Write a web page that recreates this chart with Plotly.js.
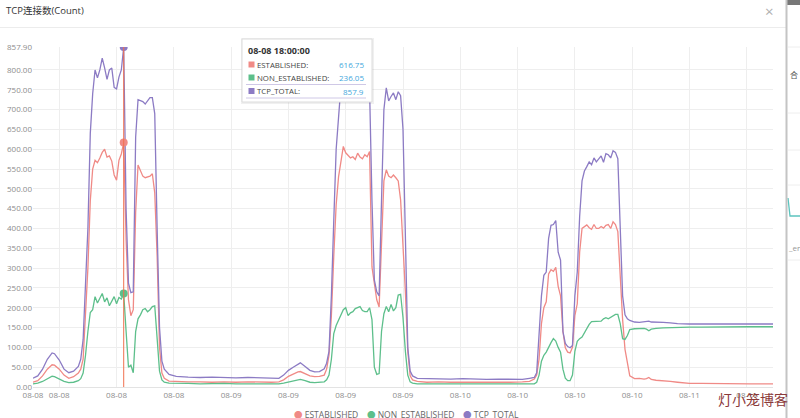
<!DOCTYPE html>
<html>
<head>
<meta charset="utf-8">
<script src="https://cdn.plot.ly/plotly-3.0.1.min.js"></script>
<style>
  html, body { margin: 0; padding: 0; background: #ffffff; }
  #chart { width: 800px; height: 418px; }
</style>
</head>
<body>
<div id="chart"></div>
<script>
// ---- data (15-minute sample slots) ----
const sampleIndex = [0,2,4,6,8,9,11,13,15,17,19,20,21,22,23,24,25,26,27,28,29,30,31,32,33,34,35,36,37,38,39,40,41,42,43,44,45,46,47,48,49,50,51,52,53,54,55,57,60,65,70,75,80,85,90,95,100,103,105,107,109,111,112,114,116,118,120,122,123,124,125,126,127,128,129,130,131,132,133,134,135,136,137,138,139,140,141,142,143,144,145,146,147,148,149,150,151,152,153,154,155,156,157,158,159,161,165,170,175,180,185,190,195,200,205,208,210,211,212,213,214,215,216,217,218,219,220,221,222,223,224,225,226,227,228,229,230,231,232,233,234,235,236,237,238,239,240,241,242,243,244,245,246,247,248,249,250,252,254,256,257,258,259,261,264,267,270,275,280,290,300,310];

const tcpTotal = [22,28,45,70,86,84,68,45,36,40,52,70,120,250,400,640,740,800,780,800,830,805,776,800,805,756,752,782,800,857.9,448,262,238,240,630,725,722,720,714,722,730,730,690,400,150,65,45,32,27,25,24,25,24,23,24,23,22,22,30,42,50,58,61,52,42,38,39,46,60,90,230,420,600,680,760,800,795,790,775,778,780,795,790,780,785,785,750,470,270,240,230,470,700,755,722,733,742,725,745,735,650,380,100,40,28,22,21,20,20,21,20,19,20,19,19,22,24,36,120,230,282,290,375,408,410,420,340,320,140,110,102,99,105,230,290,430,520,545,556,568,561,578,568,576,583,567,589,586,578,596,592,576,400,230,182,172,168,164,163,164,165,166,164,163,163,162,160,159,159,159,159,159];

const established = [12,16,28,45,56,55,45,30,22,26,35,45,70,170,300,470,550,572,566,578,592,600,580,583,570,535,522,572,588,616.75,371,220,180,195,440,560,548,532,528,530,532,538,490,330,100,35,22,15,14,13,13,12,13,12,13,12,12,13,18,27,33,38,39,34,28,26,27,30,45,80,180,330,460,530,575,607,591,584,578,581,574,590,580,576,586,581,594,303,255,220,202,350,520,548,532,528,535,528,520,472,360,240,90,28,18,14,12,13,12,12,12,11,12,12,13,14,20,30,70,160,200,215,285,296,292,302,254,230,140,99,88,86,100,180,210,340,400,405,409,402,398,410,400,400,405,401,408,410,400,417,410,392,275,170,95,60,28,21,22,20,21,24,19,17,16,14,12,9,9,8,8,8];

const nonEstablished = [8,10,14,20,27,26,20,14,11,12,16,21,35,80,140,188,195,228,212,225,236,215,225,205,218,228,210,226,222,236.05,140,50,55,36,140,172,182,195,198,190,195,203,205,120,40,18,12,10,9,9,8,9,9,8,8,9,8,8,10,13,16,19,19,16,12,11,12,13,18,30,70,135,155,170,185,195,200,180,187,190,198,201,203,193,190,190,200,170,50,32,34,140,185,203,190,208,192,200,232,234,175,90,30,13,10,8,8,7,8,7,7,7,8,7,8,8,8,12,30,65,80,88,102,112,122,116,100,88,45,22,16,16,30,90,115,122,126,138,150,158,165,165,165,165,166,172,175,172,176,180,183,183,160,122,120,130,145,147,148,148,146,142,146,148,149,150,150,151,151,152,152,152];

const seriesNames = ['ESTABLISHED', 'NON_ESTABLISHED', 'TCP_TOTAL'];
const xTickIndex = [0,11,35,59,83,107,131,155,179,203,227,251,275,299];
const xTickLabels = ['08-08','08-08','08-08','08-08','08-09','08-09','08-09','08-09','08-10','08-10','08-10','08-10','08-11','08-11'];
const yTickValues = [0,50,100,150,200,250,300,350,400,450,500,550,600,650,700,750,800,857.9];
const hoverSlot = 38;
const hoverLabel = '08-08 18:00:00';

// ---- styling / layout helpers ----
const colors = ['#f08a86', '#5dbf8b', '#8c7bc4'];
const W = 800, H = 418, ML = 33, MR = 27, MT = 47, MB = 31;
const PW = W - ML - MR, PH = H - MT - MB;
const PX = px => (px - ML) / PW;
const PY = py => (H - MB - py) / PH;
const FONT = "'Open Sans', 'Noto Sans CJK SC', sans-serif";

const seriesData = [established, nonEstablished, tcpTotal];
const traces = seriesData.map((vals, k) => ({
  type: 'scatter', mode: 'lines', name: seriesNames[k],
  x: sampleIndex, y: vals,
  line: { color: colors[k], width: 1.3 },
  showlegend: false, hoverinfo: 'skip'
}));

const hi = sampleIndex.indexOf(hoverSlot);
traces.push({
  type: 'scatter', mode: 'markers',
  x: [sampleIndex[hi], sampleIndex[hi], sampleIndex[hi]],
  y: [established[hi], nonEstablished[hi], tcpTotal[hi]],
  marker: { color: colors, size: 8 },
  cliponaxis: true, showlegend: false, hoverinfo: 'skip'
});

const shapes = [];
const annotations = [];

// header
annotations.push({ xref: 'paper', yref: 'paper', x: PX(4), y: PY(11), xanchor: 'left', yanchor: 'middle',
  text: 'TCP连接数(Count)', showarrow: false, font: { family: FONT, size: 9.5, color: '#333' } });
annotations.push({ xref: 'paper', yref: 'paper', x: PX(769), y: PY(11), xanchor: 'center', yanchor: 'middle',
  text: '×', showarrow: false, borderpad: 0, font: { family: FONT, size: 15, color: '#b0b0b0' } });
shapes.push({ type: 'line', xref: 'paper', yref: 'paper', x0: PX(0), x1: PX(786), y0: PY(27.5), y1: PY(27.5),
  line: { color: '#ececec', width: 1 } });

// crosshair
shapes.push({ type: 'line', xref: 'x', yref: 'paper', x0: hoverSlot, x1: hoverSlot, y0: 0, y1: 1,
  line: { color: '#f0704f', width: 1 } });

// tooltip box
shapes.push({ type: 'rect', xref: 'paper', yref: 'paper', x0: PX(241), x1: PX(374), y0: PY(104), y1: PY(38),
  fillcolor: 'rgba(0,0,0,0.06)', line: { width: 0 } });
shapes.push({ type: 'rect', xref: 'paper', yref: 'paper', x0: PX(242), x1: PX(372), y0: PY(102), y1: PY(39),
  fillcolor: '#ffffff', line: { color: '#dcdcdc', width: 1 } });
annotations.push({ xref: 'paper', yref: 'paper', x: PX(246), y: PY(50.5), xanchor: 'left', yanchor: 'middle',
  text: '<b>' + hoverLabel + '</b>', showarrow: false, font: { family: FONT, size: 9, color: '#333' } });
const rowY = [64.5, 77.5, 91];
const rowVals = [established[hi], nonEstablished[hi], tcpTotal[hi]];
for (let k = 0; k < 3; k++) {
  shapes.push({ type: 'rect', xref: 'paper', yref: 'paper', x0: PX(248.5), x1: PX(254.5),
    y0: PY(rowY[k] + 3), y1: PY(rowY[k] - 3), fillcolor: colors[k], line: { width: 0 } });
  annotations.push({ xref: 'paper', yref: 'paper', x: PX(256), y: PY(rowY[k]), xanchor: 'left', yanchor: 'middle',
    text: seriesNames[k] + ':', showarrow: false, borderpad: 0, font: { family: FONT, size: 7.8, color: '#444' } });
  annotations.push({ xref: 'paper', yref: 'paper', x: PX(365), y: PY(rowY[k]), xanchor: 'right', yanchor: 'middle',
    text: String(rowVals[k]), showarrow: false, borderpad: 0, font: { family: FONT, size: 8, color: '#3fa7dc' } });
}
shapes.push({ type: 'line', xref: 'paper', yref: 'paper', x0: PX(246), x1: PX(366), y0: PY(84.5), y1: PY(84.5),
  line: { color: '#cfc8e6', width: 1 } });
shapes.push({ type: 'line', xref: 'paper', yref: 'paper', x0: PX(246), x1: PX(366), y0: PY(98), y1: PY(98),
  line: { color: '#cfc8e6', width: 1 } });

// legend (bottom, partly cut by the window as in the screenshot)
const legendX = [293, 366, 462];
for (let k = 0; k < 3; k++) {
  annotations.push({ xref: 'paper', yref: 'paper', x: PX(legendX[k]), y: PY(414.5), xanchor: 'left', yanchor: 'middle',
    text: '<span style="color:' + colors[k] + '">●</span> ' + seriesNames[k], showarrow: false, borderpad: 0,
    font: { family: FONT, size: 8.5, color: '#666' } });
}

// watermark
annotations.push({ xref: 'paper', yref: 'paper', x: PX(753), y: PY(399), xanchor: 'center', yanchor: 'middle',
  text: '灯小笼博客', showarrow: false, font: { family: "'Noto Sans CJK SC', sans-serif", size: 14, color: '#8b3a3a' } });

// page content visible at the right edge, behind the dialog
shapes.push({ type: 'rect', xref: 'paper', yref: 'paper', x0: PX(787), x1: PX(800), y0: PY(418), y1: PY(0),
  fillcolor: '#ffffff', line: { width: 0 }, layer: 'below' });
shapes.push({ type: 'rect', xref: 'paper', yref: 'paper', x0: PX(787), x1: PX(800), y0: PY(5), y1: PY(0),
  fillcolor: '#777777', line: { width: 0 } });
[47, 113, 150, 185, 260].forEach(py => shapes.push({ type: 'line', xref: 'paper', yref: 'paper',
  x0: PX(788), x1: PX(800), y0: PY(py), y1: PY(py), line: { color: '#eeeeee', width: 1 } }));
shapes.push({ type: 'path', xref: 'paper', yref: 'paper',
  path: 'M ' + PX(788) + ' ' + PY(198) + ' L ' + PX(790) + ' ' + PY(216) + ' L ' + PX(800) + ' ' + PY(216),
  line: { color: '#5cc4be', width: 1.3 } });
shapes.push({ type: 'line', xref: 'paper', yref: 'paper', x0: PX(786.5), x1: PX(786.5), y0: PY(418), y1: PY(0),
  line: { color: '#c4c4c4', width: 2 } });
annotations.push({ xref: 'paper', yref: 'paper', x: PX(789), y: PY(74), xanchor: 'left', yanchor: 'middle',
  text: '合', showarrow: false, borderpad: 0, font: { family: "'Noto Sans CJK SC', sans-serif", size: 8, color: '#555' } });
annotations.push({ xref: 'paper', yref: 'paper', x: PX(787), y: PY(247), xanchor: 'left', yanchor: 'middle',
  text: '_en', showarrow: false, borderpad: 0, font: { family: FONT, size: 8, color: '#999' } });

const layout = {
  width: W, height: H,
  margin: { l: ML, r: MR, t: MT, b: MB, pad: 0 },
  paper_bgcolor: '#ffffff', plot_bgcolor: '#ffffff',
  showlegend: false,
  font: { family: FONT, size: 8, color: '#8c8c8c' },
  xaxis: {
    range: [0, 310], tickmode: 'array', tickvals: xTickIndex, ticktext: xTickLabels, tickangle: 0,
    showgrid: true, gridcolor: '#eeeeee', gridwidth: 1, zeroline: false,
    showline: true, linecolor: '#e3e3e3', ticks: '', fixedrange: true,
    tickfont: { family: FONT, size: 8, color: '#8c8c8c' }
  },
  yaxis: {
    range: [0, 857.9], tickmode: 'array', tickvals: yTickValues,
    ticktext: yTickValues.map(v => v.toFixed(2)),
    showgrid: true, gridcolor: '#eeeeee', gridwidth: 1, zeroline: false,
    showline: false, ticks: '', fixedrange: true,
    tickfont: { family: FONT, size: 8, color: '#8c8c8c' }
  },
  shapes: shapes,
  annotations: annotations
};

Plotly.newPlot('chart', traces, layout, { displayModeBar: false, staticPlot: true });
</script>
</body>
</html>
